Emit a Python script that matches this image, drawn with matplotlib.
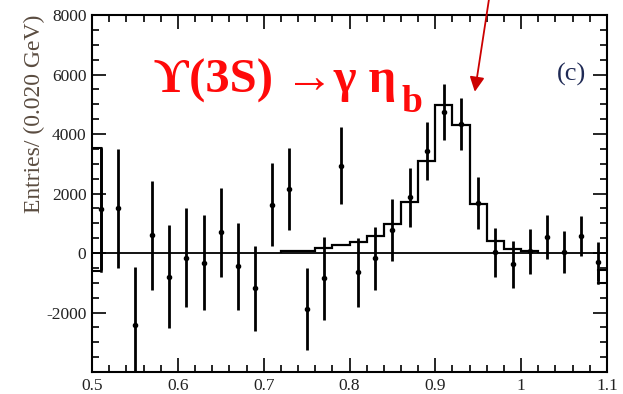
import matplotlib
matplotlib.use("Agg")
import matplotlib.pyplot as plt
import numpy as np

# --------------------------------------------------
# data: background-subtracted yield per 0.020 GeV bin
# --------------------------------------------------

bin_centers = [0.51, 0.53, 0.55, 0.57, 0.59, 0.61, 0.63, 0.65, 0.67, 0.69,
               0.71, 0.73, 0.75, 0.77, 0.79, 0.81, 0.83, 0.85, 0.87, 0.89,
               0.91, 0.93, 0.95, 0.97, 0.99, 1.01, 1.03, 1.05, 1.07, 1.09]
entries = [1470, 1510, -2420, 590, -790, -160, -320, 690, -450, -1180,
           1630, 2150, -1880, -850, 2930, -650, -180, 780, 1870, 3430,
           4750, 4330, 1670, 20, -370, 60, 540, 30, 580, -290]
errors = [2050, 2000, 1950, 1820, 1730, 1660, 1590, 1510, 1450, 1430,
          1400, 1390, 1390, 1390, 1290, 1160, 1060, 1050, 980, 980,
          940, 870, 870, 820, 790, 760, 740, 710, 670, 650]

# signal shape from the fit
fit_edges = [0.72, 0.74, 0.76, 0.78, 0.80, 0.82, 0.84, 0.86,
             0.88, 0.90, 0.92, 0.94, 0.96, 0.98, 1.00, 1.02]
fit_values = [60, 70, 157, 257, 358, 560, 974, 1712,
              3100, 4990, 4319, 1645, 414, 134, 56]

# half-bin boxes left at the range edges
edge_x0 = [0.50, 1.09]
edge_x1 = [0.51, 1.10]
edge_hi = [3520, -560]
edge_lo = [-620, -1005]

xticks = [0.5, 0.6, 0.7, 0.8, 0.9, 1.0, 1.1]
xticklabels = ["0.5", "0.6", "0.7", "0.8", "0.9", "1", "1.1"]
yticks = [-2000, 0, 2000, 4000, 6000, 8000]

serif = ["Liberation Serif", "DejaVu Serif"]
plt.rcParams["font.family"] = serif
plt.rcParams["axes.unicode_minus"] = False

fig = plt.figure(figsize=(6.23, 3.94), dpi=100)
ax = fig.add_axes([0.1477, 0.0558, 0.8266, 0.9061])

# --------------------------------------------------
# marks
# --------------------------------------------------

ax.axhline(0, color="black", lw=1.3, zorder=1)

ax.stairs(fit_values, fit_edges, color="black", lw=1.6, zorder=2)

ax.errorbar(bin_centers, entries, yerr=errors, fmt="o", color="black",
            ms=3.0, elinewidth=2.0, capsize=0, zorder=3)

for x0, x1, hi, lo in zip(edge_x0, edge_x1, edge_hi, edge_lo):
    ax.plot([x0, x1], [hi, hi], color="black", lw=1.5, zorder=3)
    ax.plot([x0, x1], [lo, lo], color="black", lw=1.5, zorder=3)
    ax.plot([x1, x1] if x0 < 0.6 else [x0, x0], [lo, hi],
            color="black", lw=1.8, zorder=3)

# --------------------------------------------------
# axes styling (inward ticks on all four sides)
# --------------------------------------------------

ax.set_xlim(0.5, 1.1)
ax.set_ylim(-4000, 8000)
ax.set_xticks(xticks)
ax.set_xticklabels(xticklabels)
ax.set_xticks(np.arange(0.5, 1.1001, 0.02), minor=True)
ax.set_yticks(yticks)
ax.set_yticks(np.arange(-4000, 8001, 500), minor=True)

ax.tick_params(which="both", direction="in", top=True, right=True,
               width=1.2, colors="black", labelcolor="#222222",
               labelsize=12.5)
ax.tick_params(which="major", length=10)
ax.tick_params(which="minor", length=5)
ax.tick_params(axis="y", pad=4)
ax.tick_params(axis="x", pad=4)
for s in ax.spines.values():
    s.set_linewidth(1.5)

ax.set_ylabel("Entries/ (0.020 GeV)", fontsize=17, color="#5a4c40",
              loc="top", labelpad=1)

ax.text(1.059, 6000, "(c)", fontsize=19, color="#1f2a55",
        ha="center", va="center")

# --------------------------------------------------
# decay label and arrow pointing to the peak
# --------------------------------------------------

title = ax.text(0.572, 5380, "\u03d2(3S) \u2192\u03b3 \u03b7", fontsize=35,
                fontweight="bold", color="#ff0a0a", ha="left",
                va="baseline", family=serif)
ax.annotate("b", xy=(1, 0), xycoords=title, xytext=(4, -6),
            textcoords="offset points", fontsize=27, fontweight="bold",
            color="#ff0a0a", ha="left", va="baseline", family=serif)

ax.annotate("", xy=(0.946, 5420), xytext=(0.965, 9000),
            arrowprops=dict(arrowstyle="-|>", color="#cc0000", lw=1.3,
                            mutation_scale=22, shrinkA=0, shrinkB=0),
            annotation_clip=False)

fig.savefig("out.png", dpi=100)
